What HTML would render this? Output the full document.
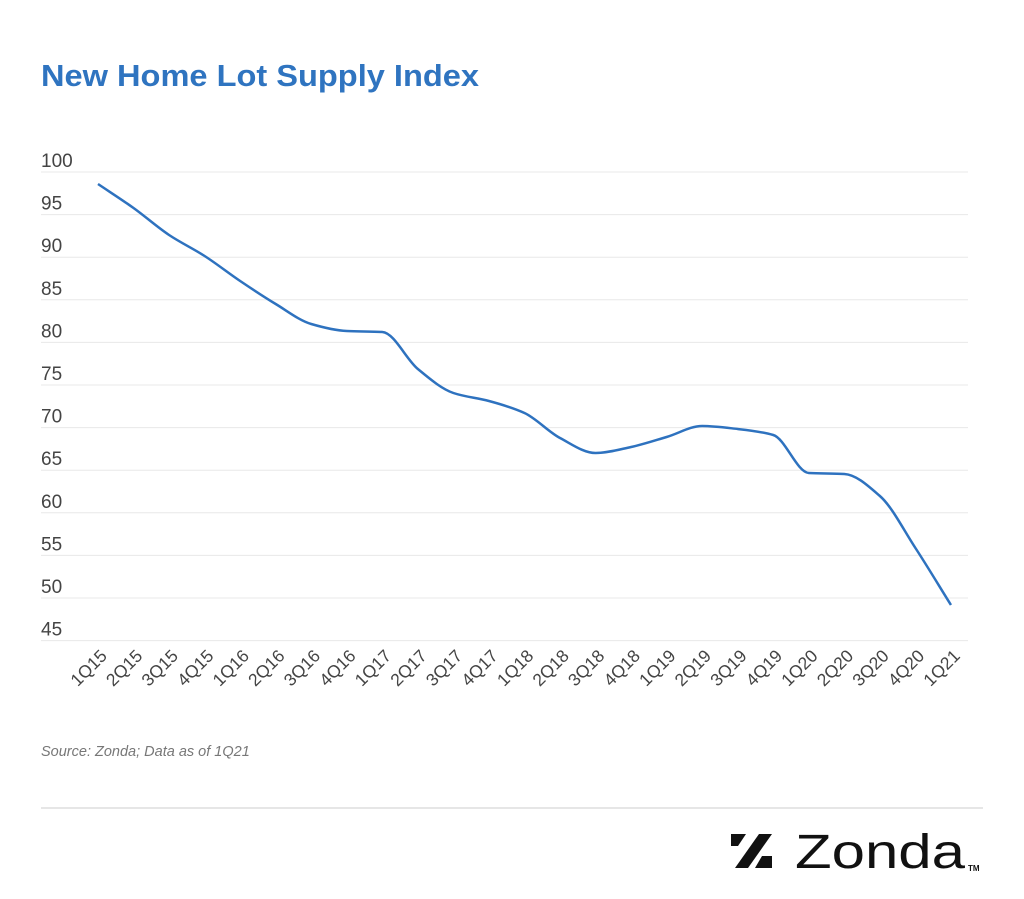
<!DOCTYPE html>
<html><head><meta charset="utf-8"><style>
body{margin:0;background:#fff;width:1024px;height:894px;overflow:hidden;font-family:"Liberation Sans",sans-serif}
</style></head><body>
<svg width="1024" height="894" xmlns="http://www.w3.org/2000/svg" id="s">
<text x="41" y="86" font-size="31" font-weight="bold" fill="#2f74c0" font-family="Liberation Sans" textLength="438" lengthAdjust="spacingAndGlyphs">New Home Lot Supply Index</text>
<g id="grid"></g>
<path id="line" fill="none" stroke="#2e72bf" stroke-width="2.5"/>
<text x="41" y="756" font-size="14.5" font-style="italic" fill="#777">Source: Zonda; Data as of 1Q21</text>
<line x1="41" y1="808" x2="983" y2="808" stroke="#ddd" stroke-width="1.5"/>
<g fill="#111">
<polygon points="731,834 746,834 738,846 731,846"/>
<polygon points="759,834 772,834 748,868 735,868"/>
<polygon points="762,856 772,856 772,868 755,868"/>
<text x="795" y="868" font-size="48" font-family="Liberation Sans" fill="#111" textLength="170" lengthAdjust="spacingAndGlyphs">Zonda</text>
<text x="968" y="871" font-size="8" font-weight="bold">TM</text>
</g>
</svg>
<script>
var ns="http://www.w3.org/2000/svg",g=document.getElementById('grid');
function Y(v){return 172+(100-v)/5*42.6;}
for(var v=100;v>=45;v-=5){var y=Y(v);
var l=document.createElementNS(ns,'line');l.setAttribute('x1',41);l.setAttribute('x2',968);l.setAttribute('y1',y);l.setAttribute('y2',y);l.setAttribute('stroke','#e8e8e8');l.setAttribute('stroke-width','1');g.appendChild(l);
var t=document.createElementNS(ns,'text');t.setAttribute('x',41);t.setAttribute('y',y-5);t.setAttribute('font-size','19');t.setAttribute('fill','#444');t.textContent=v;g.appendChild(t);}
var lab=[],q=["1Q","2Q","3Q","4Q"];for(var yr=15;yr<=21;yr++)for(var i=0;i<4;i++){if(yr==21&&i>0)break;lab.push(q[i]+yr);}
var ys=[184,208,235,256,281,304,324,331,332,369,393,401,413,438,453,447,437,426,429,435,473,474,496,548,605];
var pts=[];for(var i=0;i<25;i++){var x=98+i*35.54;pts.push([x,ys[i]]);
var t=document.createElementNS(ns,'text');t.setAttribute('font-size','17.5');t.setAttribute('fill','#444');t.setAttribute('text-anchor','end');
t.setAttribute('transform','translate('+(x+10)+',657) rotate(-45)');t.textContent=lab[i];g.appendChild(t);}
var n=pts.length,h=35.54,dl=[],m=[];
for(var i=0;i<n-1;i++)dl.push((pts[i+1][1]-pts[i][1])/h);
m[0]=dl[0];m[n-1]=dl[n-2];
for(var i=1;i<n-1;i++){if(dl[i-1]*dl[i]<=0)m[i]=0;else m[i]=2/(1/dl[i-1]+1/dl[i]);}
var d="M"+pts[0][0]+","+pts[0][1];
for(var i=0;i<n-1;i++){var p1=pts[i],p2=pts[i+1];
d+=" C"+(p1[0]+h/3)+","+(p1[1]+m[i]*h/3)+" "+(p2[0]-h/3)+","+(p2[1]-m[i+1]*h/3)+" "+p2[0]+","+p2[1];}
document.getElementById('line').setAttribute('d',d);
</script>
</body></html>
